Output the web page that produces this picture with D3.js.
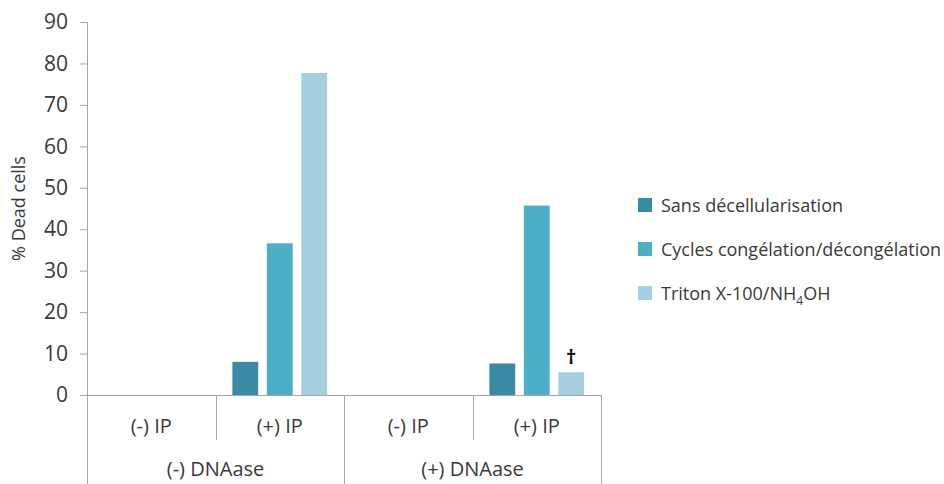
<!DOCTYPE html>
<html>
<head>
<meta charset="utf-8">
<script src="https://cdn.jsdelivr.net/npm/d3@7/dist/d3.min.js"></script>
<style>
  body { margin: 0; background: #fff; }
  text { font-family: "Open Sans", sans-serif; fill: #3a3a3a; }
</style>
</head>
<body>
<div id="chartContainer"></div>
<script>
var width = 944;
var height = 484;

// categories: inner (IP) within outer (DNAase)
var outerGroups = ["(-) DNAase", "(+) DNAase"];
var innerGroups = ["(-) IP", "(+) IP"];
var seriesNames = ["Sans décellularisation", "Cycles congélation/décongélation", "Triton X-100/NH4OH"];
var seriesColors = ["#3b8aa3", "#4aafc7", "#a6cfdf"];

// values per series, one per (outer, inner) pair; null = no bar
var sansValues   = [null, 8.0, null, 7.6];
var cyclesValues = [null, 36.6, null, 45.7];
var tritonValues = [null, 77.7, null, 5.5];
var yTicks = [0, 10, 20, 30, 40, 50, 60, 70, 80, 90];

var margin = {top: 22, left: 87, right: 344, bottom: 89};

var svg = d3.select('#chartContainer')
    .append('svg')
    .attr("width", width)
    .attr("height", height);

var cats = [];
outerGroups.forEach((o) => { innerGroups.forEach((i) => { cats.push(o + "|" + i); }); });

var x = d3.scaleBand()
    .domain(cats)
    .range([margin.left, width - margin.right + 1])
    .paddingInner(0)
    .paddingOuter(0);

var xs = d3.scaleBand()
    .domain(d3.range(seriesNames.length))
    .range([0, x.bandwidth()])
    .paddingInner(0.25)
    .paddingOuter(0.49);

var y = d3.scaleLinear()
    .domain([0, 90])
    .range([height - margin.bottom, margin.top]);

var axisColor = "#a6a6a6";

/***** Y axis *****/
var yAxisGroup = svg.append('g').attr("transform", "translate(" + margin.left + ",0)");
yAxisGroup.call(d3.axisLeft(y).tickValues(yTicks).tickSize(7).tickPadding(12));
yAxisGroup.select(".domain").attr("stroke", axisColor).attr("d", "M0.5," + y(90) + "V" + height);
yAxisGroup.selectAll(".tick line").attr("stroke", axisColor);
yAxisGroup.selectAll(".tick text").style("font-size", "21px").attr("fill", "#3a3a3a");

svg.append("text")
    .attr("transform", "translate(25," + ((y(0) + y(90)) / 2) + ") rotate(-90)")
    .attr("text-anchor", "middle")
    .style("font-size", "18px")
    .text("% Dead cells");

/***** X axis (two levels) *****/
var x0 = x.range()[0], x1 = x.range()[1];
svg.append("line")
    .attr("x1", x0).attr("x2", x1)
    .attr("y1", y(0) + 0.5).attr("y2", y(0) + 0.5)
    .attr("stroke", axisColor);

var outerW = x.bandwidth() * innerGroups.length;
// inner separators
cats.forEach((c, k) => {
  if (k % innerGroups.length !== 0) {
    svg.append("line")
      .attr("x1", Math.round(x(c)) + 0.5).attr("x2", Math.round(x(c)) + 0.5)
      .attr("y1", y(0)).attr("y2", y(0) + 45)
      .attr("stroke", axisColor);
  }
});
// outer separators
d3.range(outerGroups.length + 1).forEach((k) => {
  var px = Math.round(x0 + k * outerW) + 0.5;
  svg.append("line")
    .attr("x1", px).attr("x2", px)
    .attr("y1", y(0)).attr("y2", height)
    .attr("stroke", axisColor);
});

svg.append("g").selectAll("text")
    .data(cats)
    .join("text")
    .attr("x", (d) => x(d) + x.bandwidth() / 2)
    .attr("y", y(0) + 38)
    .attr("text-anchor", "middle")
    .style("font-size", "20px")
    .text((d) => d.split("|")[1]);

svg.append("g").selectAll("text")
    .data(outerGroups)
    .join("text")
    .attr("x", (d, k) => x0 + k * outerW + outerW / 2)
    .attr("y", y(0) + 81)
    .attr("text-anchor", "middle")
    .style("font-size", "20px")
    .text((d) => d);

/***** Bars *****/
var allValues = [sansValues, cyclesValues, tritonValues];
var barData = [];
allValues.forEach((vals, s) => {
  vals.forEach((v, c) => {
    if (v !== null) barData.push({s: s, cat: cats[c], v: v});
  });
});

svg.append("g").selectAll("rect")
    .data(barData)
    .join("rect")
    .attr("x", (d) => x(d.cat) + xs(d.s))
    .attr("width", xs.bandwidth())
    .attr("y", (d) => y(d.v))
    .attr("height", (d) => y(0) - y(d.v))
    .attr("fill", (d) => seriesColors[d.s]);

// dagger over the last Triton bar
var lastTriton = barData.filter((d) => d.s === 2 && d.cat === cats[3])[0];
svg.append("text")
    .attr("x", x(lastTriton.cat) + xs(2) + xs.bandwidth() / 2)
    .attr("y", y(lastTriton.v) - 8)
    .attr("text-anchor", "middle")
    .style("font-size", "20px")
    .style("font-weight", "bold")
    .style("fill", "#111")
    .text("†");

/***** Legend *****/
var legend = svg.append("g").attr("transform", "translate(638,198)");
seriesNames.forEach((name, k) => {
  var g = legend.append("g").attr("transform", "translate(0," + (k * 44) + ")");
  g.append("rect").attr("width", 14).attr("height", 14).attr("fill", seriesColors[k]);
  var t = g.append("text").attr("x", 23).attr("y", 14).style("font-size", "18px");
  if (name.indexOf("NH4") >= 0) {
    t.append("tspan").text("Triton X-100/NH");
    t.append("tspan").attr("dy", 5).style("font-size", "12px").text("4");
    t.append("tspan").attr("dy", -5).text("OH");
  } else {
    t.text(name);
  }
});
</script>
</body>
</html>
